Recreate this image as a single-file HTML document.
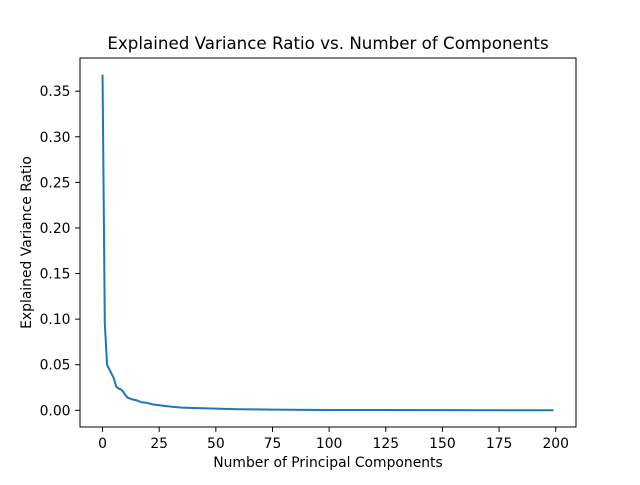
<!DOCTYPE html>
<html><head><meta charset="utf-8"><style>
body{margin:0;background:#fff;font-family:"Liberation Sans","DejaVu Sans",sans-serif}
svg text{font-family:"DejaVu Sans","Liberation Sans",sans-serif;fill:#000}
</style></head><body>
<svg id="chart" width="640" height="480">
<rect width="640" height="480" fill="#fff"/>
<text x="328" y="49" font-size="16.7" text-anchor="middle">Explained Variance Ratio vs. Number of Components</text>
<text x="328" y="467" font-size="13.9" text-anchor="middle">Number of Principal Components</text>
<text transform="translate(31,242.5) rotate(-90)" font-size="13.9" text-anchor="middle">Explained Variance Ratio</text>
<g id="ticks"></g>
<path id="line" fill="none" stroke="#1f77b4" stroke-width="2" stroke-linejoin="round"/>
<rect x="80" y="58" width="496" height="369" fill="none" stroke="#000" stroke-width="1"/>
</svg>
<script>
const components = [0,1,2,3,4,5,6,7,8,9,10,11,12,13,15,17,20,22,25,30,35,40,50,60,75,100,150,199];
const varianceRatio = [0.368,0.095,0.050,0.045,0.040,0.035,0.026,0.024,0.023,0.021,0.017,0.014,0.013,0.012,0.011,0.009,0.008,0.0065,0.0055,0.004,0.003,0.0025,0.0018,0.0012,0.0008,0.0004,0.0002,0.0001];
const xTicks = [0,25,50,75,100,125,150,175,200];
const yTicks = [0,0.05,0.10,0.15,0.20,0.25,0.30,0.35];
const L=80,R=576,T=58,B=427;
const xmin=-9.95,xmax=208.95;
const ymax0=Math.max(...varianceRatio),ymin0=Math.min(...varianceRatio);
const rng=ymax0-ymin0, ymin=ymin0-0.05*rng, ymax=ymax0+0.05*rng;
const xs=v=>L+(v-xmin)/(xmax-xmin)*(R-L);
const ys=v=>B-(v-ymin)/(ymax-ymin)*(B-T);
const NS='http://www.w3.org/2000/svg';
const g=document.getElementById('ticks');
function mk(t,a){const e=document.createElementNS(NS,t);for(const k in a)e.setAttribute(k,a[k]);g.appendChild(e);return e;}
xTicks.forEach(v=>{
 const x=xs(v);
 const l=mk('line',{x1:x,x2:x,y1:B,y2:B+4.9,stroke:'#000'});
 
 
 const t=mk('text',{x:x,y:B+21,'font-size':13.9,'text-anchor':'middle'});
 t.textContent=v;
 
 
});
yTicks.forEach(v=>{
 const y=ys(v);
 const l=mk('line',{x1:L-4.9,x2:L,y1:y,y2:y,stroke:'#000'});
 
 
 const t=mk('text',{x:L-9.5,y:y+5,'font-size':13.9,'text-anchor':'end'});
 t.textContent=v.toFixed(2);
 
 
});
document.getElementById('line').setAttribute('d',components.map((c,i)=>(i?'L':'M')+xs(c).toFixed(2)+','+ys(varianceRatio[i]).toFixed(2)).join(''));
</script>
</body></html>
